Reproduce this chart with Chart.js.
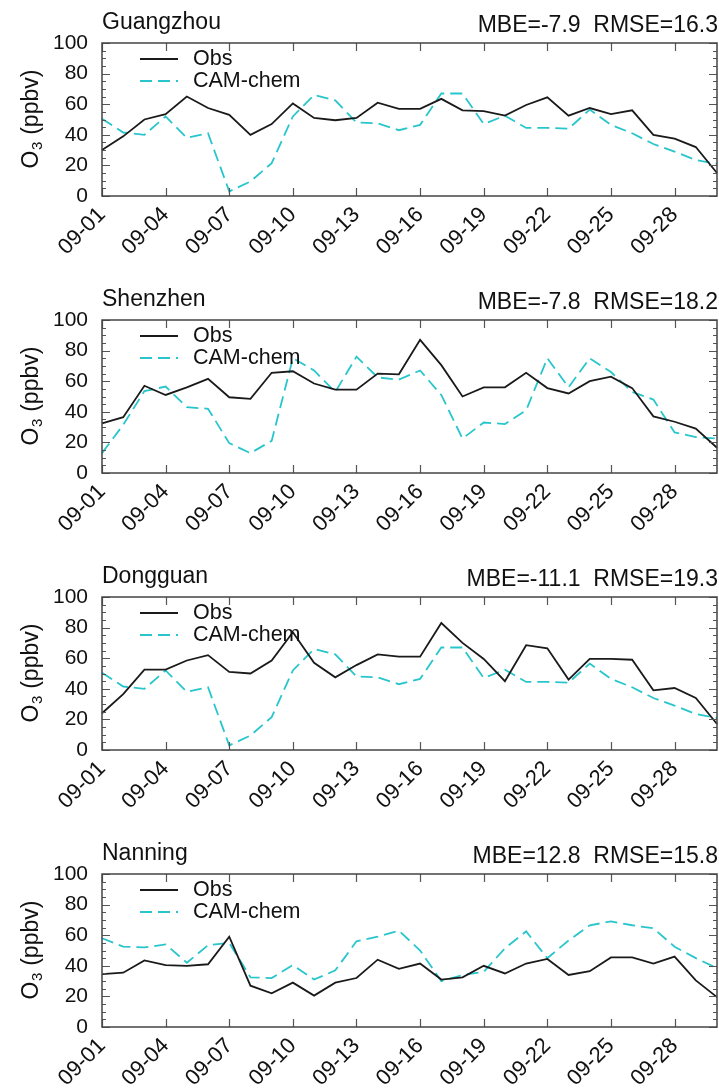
<!DOCTYPE html>
<html>
<head>
<meta charset="utf-8">
<script src="https://cdn.jsdelivr.net/npm/chart.js@4"></script>
<style>
  html, body { margin: 0; padding: 0; background: #fff; overflow: hidden; }
  .panel { position: absolute; left: 0; width: 719px; height: 277px; }
</style>
</head>
<body>
<div class="panel" style="top:0px"><canvas id="c0" width="719" height="277"></canvas></div>
<div class="panel" style="top:277px"><canvas id="c1" width="719" height="277"></canvas></div>
<div class="panel" style="top:554px"><canvas id="c2" width="719" height="277"></canvas></div>
<div class="panel" style="top:831px"><canvas id="c3" width="719" height="277"></canvas></div>
<script>
// dates on the x axis
const days = ['09-01','09-02','09-03','09-04','09-05','09-06','09-07','09-08','09-09','09-10',
              '09-11','09-12','09-13','09-14','09-15','09-16','09-17','09-18','09-19','09-20',
              '09-21','09-22','09-23','09-24','09-25','09-26','09-27','09-28','09-29','09-30'];

const yTicks = [0, 20, 40, 60, 80, 100];

const cities = ['Guangzhou', 'Shenzhen', 'Dongguan', 'Nanning'];
const stats = ['MBE=-7.9  RMSE=16.3', 'MBE=-7.8  RMSE=18.2', 'MBE=-11.1  RMSE=19.3', 'MBE=12.8  RMSE=15.8'];
const seriesNames = ['Obs', 'CAM-chem'];

// O3 (ppbv), observed
const obsGuangzhou = [30, 39, 50, 53.5, 65, 57.5, 53, 40, 47, 60.5, 51, 49.5, 51, 61, 57, 57, 63.5, 56, 55.5, 52.5, 59.5, 64.5, 52.5, 57.5, 53.5, 56, 40, 37.5, 32, 15];
const obsShenzhen = [32.5, 36.5, 57, 51, 56, 61.5, 49.5, 48.5, 65.5, 66.5, 58.5, 54.5, 54.5, 65, 64.5, 87, 70.5, 50, 56, 56, 65.5, 55.5, 52, 60, 63, 55.5, 37, 33.5, 29, 16.5];
const obsDongguan = [24, 36.5, 52.5, 52.5, 58.5, 62, 51, 50, 58.5, 77, 57, 47.5, 55.5, 62.5, 61, 61, 83, 70, 59.5, 45, 68.5, 66.5, 46, 59.5, 59.5, 59, 39, 40.5, 34, 17];
const obsNanning = [34.5, 35.5, 43.5, 40.5, 40, 41, 59, 27, 22, 29, 20.5, 29, 32, 44, 38, 41.5, 31, 32.5, 40, 35, 41.5, 44.5, 34, 36.5, 45.5, 45.5, 41.5, 46, 30.5, 19.5];

// O3 (ppbv), CAM-chem
const camGuangzhou = [50.5, 41.5, 40, 52, 38, 41, 3, 9.5, 21.5, 52, 66, 62.5, 48, 47.5, 43, 46.5, 67, 67, 47, 52.5, 44.5, 44.5, 44, 56.5, 46.5, 41, 34, 29, 23.5, 21];
const camShenzhen = [13, 31.5, 53.5, 56.5, 43, 42, 19.5, 13, 21, 75, 67, 53, 76, 62.5, 61, 67, 51, 22.5, 33, 32, 41, 75, 56, 75, 66, 53, 48, 26.5, 23.5, 22.5];
const camDongguan = [50.5, 41.5, 40, 52, 38, 41, 3, 9.5, 21.5, 52, 66, 62.5, 48, 47.5, 43, 46.5, 67, 67, 47, 52.5, 44.5, 44.5, 44, 56.5, 46.5, 41, 34, 29, 23.5, 21];
const camNanning = [58, 52.5, 52, 54, 42, 53.5, 55, 32.5, 32, 40.5, 31, 37, 56, 59, 63, 50, 30, 34, 36, 51.5, 62.5, 45, 56.5, 66.5, 69, 66.5, 64.5, 52.5, 45, 38.5];

const obsList = [obsGuangzhou, obsShenzhen, obsDongguan, obsNanning];
const camList = [camGuangzhou, camShenzhen, camDongguan, camNanning];

const FONT = '"Liberation Sans", Arial, sans-serif';
const OBS_COLOR = '#1a1a1a';
const CAM_COLOR = 'rgb(40,198,204)';

// frame, inward ticks, legend, titles and y label
const decor = {
  id: 'decor',
  afterDraw(chart, args, opts) {
    const ctx = chart.ctx;
    const a = chart.chartArea;
    const xs = chart.scales.x, ys = chart.scales.y;
    ctx.save();

    // ticks
    ctx.strokeStyle = '#555';
    ctx.lineWidth = 1.2;
    ctx.beginPath();
    for (let i = 0; i < days.length; i += 3) {
      const px = Math.round(xs.getPixelForValue(i)) + 0.5;
      ctx.moveTo(px, a.bottom); ctx.lineTo(px, a.bottom - 8);
      ctx.moveTo(px, a.top); ctx.lineTo(px, a.top + 8);
    }
    for (let v = 0; v <= 100; v += 5) {
      const py = Math.round(ys.getPixelForValue(v)) + 0.5;
      const len = v % 20 === 0 ? 8 : 4;
      ctx.moveTo(a.left, py); ctx.lineTo(a.left + len, py);
      ctx.moveTo(a.right, py); ctx.lineTo(a.right - len, py);
    }
    ctx.stroke();

    // frame
    ctx.strokeStyle = '#444';
    ctx.lineWidth = 1.5;
    ctx.strokeRect(a.left, a.top, a.right - a.left, a.bottom - a.top);

    // legend
    ctx.font = '21.5px ' + FONT;
    ctx.textBaseline = 'middle';
    ctx.textAlign = 'left';
    chart.data.datasets.forEach((ds, i) => {
      const ly = a.top + 16 + i * 22;
      ctx.strokeStyle = ds.borderColor;
      ctx.lineWidth = ds.borderWidth;
      ctx.setLineDash(ds.borderDash || []);
      ctx.beginPath();
      ctx.moveTo(140, ly); ctx.lineTo(178, ly);
      ctx.stroke();
      ctx.setLineDash([]);
      ctx.fillStyle = '#111';
      ctx.fillText(ds.label, 193, ly);
    });

    // titles
    ctx.fillStyle = '#111';
    ctx.font = '23px ' + FONT;
    ctx.textBaseline = 'alphabetic';
    ctx.textAlign = 'left';
    ctx.fillText(opts.city, a.left, a.top - 14);
    ctx.textAlign = 'right';
    ctx.fillText(opts.stats, a.right + 1, a.top - 11);

    // y label O3 (ppbv)
    const cy = (a.top + a.bottom) / 2;
    ctx.translate(38, cy);
    ctx.rotate(-Math.PI / 2);
    ctx.font = '23px ' + FONT;
    const w1 = ctx.measureText('O').width;
    ctx.font = '15px ' + FONT;
    const w2 = ctx.measureText('3').width;
    ctx.font = '23px ' + FONT;
    const w3 = ctx.measureText(' (ppbv)').width;
    let x0 = -(w1 + w2 + w3) / 2;
    ctx.textAlign = 'left';
    ctx.fillText('O', x0, 0);
    ctx.font = '15px ' + FONT;
    ctx.fillText('3', x0 + w1 + 0.5, 4);
    ctx.font = '23px ' + FONT;
    ctx.fillText(' (ppbv)', x0 + w1 + w2 + 1, 0);

    ctx.restore();
  }
};

cities.forEach((city, k) => {
  const ctx = document.getElementById('c' + k).getContext('2d');
  new Chart(ctx, {
    type: 'line',
    data: {
      labels: days,
      datasets: [{
        label: seriesNames[0],
        data: obsList[k],
        borderColor: OBS_COLOR,
        borderWidth: 1.8,
        pointRadius: 0,
        tension: 0
      }, {
        label: seriesNames[1],
        data: camList[k],
        borderColor: CAM_COLOR,
        borderWidth: 1.8,
        borderDash: [12, 6],
        pointRadius: 0,
        tension: 0
      }]
    },
    options: {
      responsive: false,
      animation: false,
      devicePixelRatio: 1,
      layout: { padding: { top: 43, right: 2, left: 0, bottom: 0 } },
      plugins: {
        legend: { display: false },
        tooltip: { enabled: false },
        decor: { city: city, stats: stats[k] }
      },
      scales: {
        x: {
          grid: { display: false, drawTicks: false },
          border: { display: false },
          ticks: {
            autoSkip: false,
            maxRotation: 45,
            minRotation: 45,
            padding: 6,
            color: '#111',
            font: { family: FONT, size: 22 },
            callback: (v, i) => (i % 3 === 0 ? days[i] : '')
          },
          afterFit: s => { s.height = 81; s.paddingLeft = 0; s.paddingRight = 0; }
        },
        y: {
          min: 0,
          max: 100,
          grid: { display: false, drawTicks: false },
          border: { display: false },
          afterBuildTicks: s => { s.ticks = yTicks.map(v => ({ value: v })); },
          ticks: {
            padding: 14,
            color: '#111',
            font: { family: FONT, size: 21 }
          },
          afterFit: s => { s.width = 102; s.paddingTop = 0; s.paddingBottom = 0; }
        }
      }
    },
    plugins: [decor]
  });
});
</script>
</body>
</html>
